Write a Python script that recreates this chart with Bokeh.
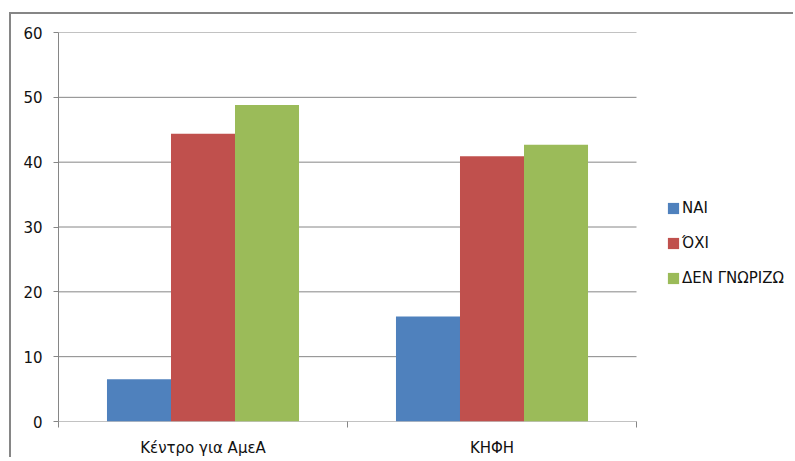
from bokeh.plotting import figure
from bokeh.models import Range1d, FixedTicker, Legend, LegendItem
from bokeh.embed import file_html
from bokeh.resources import INLINE
import numpy as np

categories = ["Κέντρο για ΑμεΑ", "ΚΗΦΗ"]
series_names = ["ΝΑΙ", "ΌΧΙ", "ΔΕΝ ΓΝΩΡΙΖΩ"]
nai = [6.5, 16.2]
oxi = [44.4, 40.9]
den_gnorizo = [48.8, 42.7]
y_ticks = [0, 10, 20, 30, 40, 50, 60]

colors = ["#4F81BD", "#C0504D", "#9BBB59"]
grid_col = "#868686"
FONT = "DejaVu Sans"
FS = "15px"

W, H = 784, 445
LEFT, TOP, RIGHT, BOTTOM = 47, 18, 9, 38
PLOT_W = 578          # width of the category area in pixels
FRAME_W = W - LEFT - RIGHT
n = len(categories)
x_end = n * FRAME_W / PLOT_W

p = figure(width=W, height=H, output_backend="svg", toolbar_location=None,
           x_range=Range1d(0, x_end), y_range=Range1d(0, 60),
           min_border_left=LEFT, min_border_top=TOP, min_border_right=RIGHT,
           min_border_bottom=BOTTOM)
p.styles = {"margin-left": "9px", "margin-top": "12px",
            "border-left": "2px solid #868686", "border-top": "2px solid #868686"}
p.outline_line_color = None
p.background_fill_color = "white"
p.border_fill_color = "white"

# gridlines limited to the category area
p.xgrid.visible = False
p.ygrid.visible = False
p.segment(x0=[0] * len(y_ticks), x1=[n] * len(y_ticks), y0=y_ticks, y1=y_ticks,
          line_color=grid_col, line_width=1)

centers = np.arange(n) + 0.5
bw = 0.2215
offsets = [-bw, 0.0, bw]
renderers = []
for vals, off, col in zip([nai, oxi, den_gnorizo], offsets, colors):
    r = p.vbar(x=centers + off, top=vals, width=bw, bottom=0,
               fill_color=col, line_color=None)
    renderers.append(r)

# axes
p.yaxis.ticker = FixedTicker(ticks=y_ticks)
p.yaxis.axis_line_color = grid_col
p.yaxis.major_tick_line_color = grid_col
p.yaxis.major_tick_out = 5
p.yaxis.major_tick_in = 0
p.yaxis.minor_tick_line_color = None
p.yaxis.major_label_standoff = 11
p.yaxis.major_label_text_font = FONT
p.yaxis.major_label_text_font_size = FS
p.yaxis.major_label_text_color = "#111111"

p.xaxis.ticker = FixedTicker(ticks=list(centers), minor_ticks=list(range(n + 1)))
p.xaxis.major_label_overrides = {float(c): name for c, name in zip(centers, categories)}
p.xaxis.axis_line_color = None
p.xaxis.major_tick_line_color = None
p.xaxis.major_tick_out = 0
p.xaxis.major_tick_in = 0
p.xaxis.minor_tick_line_color = grid_col
p.xaxis.minor_tick_out = 6
p.xaxis.minor_tick_in = 0
p.xaxis.major_label_standoff = 11
p.xaxis.major_label_text_font = FONT
p.xaxis.major_label_text_font_size = FS
p.xaxis.major_label_text_color = "#111111"

legend = Legend(items=[LegendItem(label=name, renderers=[r]) for name, r in zip(series_names, renderers)],
                location=(608, 134), padding=0, margin=0, spacing=17,
                glyph_width=14, glyph_height=14, label_height=14,
                label_standoff=2, label_text_font=FONT,
                label_text_font_size=FS, label_text_color="#111111",
                border_line_color=None, background_fill_alpha=0)
p.add_layout(legend, "center")

open("out.html", "w").write(file_html(p, INLINE))
